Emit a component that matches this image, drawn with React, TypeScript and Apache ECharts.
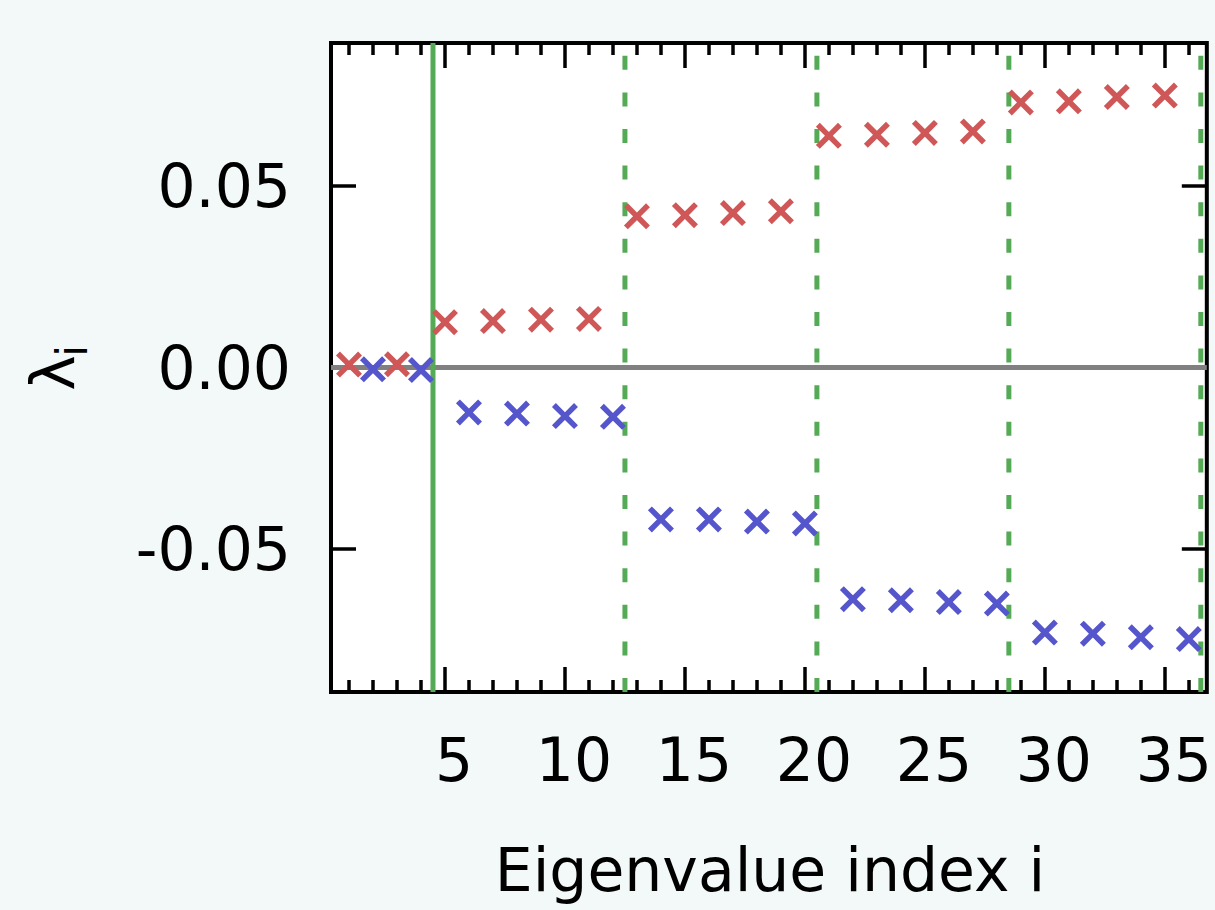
import React, { useEffect, useRef } from 'react';
import * as echarts from 'echarts';

// ---- data ----
const redIndex = [1, 3, 5, 7, 9, 11, 13, 15, 17, 19, 21, 23, 25, 27, 29, 31, 33, 35];
const redValues = [0.0008, 0.0009, 0.0125, 0.0128, 0.0132, 0.0134, 0.0417, 0.042, 0.0426, 0.0431, 0.0639, 0.0642, 0.0647, 0.0651, 0.0731, 0.0734, 0.0746, 0.075];
const blueIndex = [2, 4, 6, 8, 10, 12, 14, 16, 18, 20, 22, 24, 26, 28, 30, 32, 34, 36];
const blueValues = [-0.0005, -0.0007, -0.0124, -0.0127, -0.0134, -0.0136, -0.0419, -0.0419, -0.0425, -0.043, -0.0639, -0.0642, -0.0647, -0.0651, -0.0731, -0.0734, -0.0744, -0.0749];
const majorTicksX = [5, 10, 15, 20, 25, 30, 35];
const minorTicksX = [1, 2, 3, 4, 6, 7, 8, 9, 11, 12, 13, 14, 16, 17, 18, 19, 21, 22, 23, 24, 26, 27, 28, 29, 31, 32, 33, 34, 36];
const yTicks = [-0.05, 0, 0.05];
const solidBoundaries = [4.5];
const dashedBoundaries = [12.5, 20.5, 28.5, 36.5];
const xRange = [0.25, 36.75];
const yRange = [-0.0895, 0.0895];
const zeroLine = [0];

const FONT = 'DejaVu Sans';
const RED = '#d05757';
const BLUE = '#5555cc';
const GREEN = '#55aa55';
const XMARK = 'path://M0,15L15,0L50,35L85,0L100,15L65,50L100,85L85,100L50,65L15,100L0,85L35,50Z';

function xAxisDef(position: string, ticks: number[], length: number, labels: boolean) {
  return {
    type: 'value',
    position,
    min: xRange[0],
    max: xRange[1],
    axisLine: { show: false, onZero: false },
    splitLine: { show: false },
    axisTick: { show: true, inside: true, length, customValues: ticks, lineStyle: { color: '#000', width: 3.5 } },
    axisLabel: labels
      ? { show: true, customValues: ticks, fontFamily: FONT, fontSize: 60, color: '#000', margin: 38, padding: [0, 0, 0, 18] }
      : { show: false },
  };
}

function yAxisDef(position: string, labels: boolean) {
  return {
    type: 'value',
    position,
    min: yRange[0],
    max: yRange[1],
    axisLine: { show: false, onZero: false },
    splitLine: { show: false },
    axisTick: { show: true, inside: true, length: 25, customValues: yTicks, lineStyle: { color: '#000', width: 3.5 } },
    axisLabel: labels
      ? {
          show: true,
          customValues: yTicks,
          fontFamily: FONT,
          fontSize: 60,
          color: '#000',
          margin: 40,
          formatter: (v: number) => v.toFixed(2),
        }
      : { show: false },
  };
}

export default function App() {
  const ref = useRef<HTMLDivElement>(null);
  useEffect(() => {
    if (!ref.current) return;
    const chart = echarts.init(ref.current, undefined, { renderer: 'svg' });

    const vlines = (xs: number[], dashed: boolean) =>
      xs.map((x) => ({
        type: 'line',
        data: [[x, yRange[0]], [x, yRange[1]]],
        symbol: 'none',
        silent: true,
        z: 1,
        lineStyle: { color: GREEN, width: 5, type: dashed ? [14, 22.6] : 'solid' },
      }));

    const hlines = zeroLine.map((y) => ({
      type: 'line',
      data: [[xRange[0], y], [xRange[1], y]],
      symbol: 'none',
      silent: true,
      z: 1,
      lineStyle: { color: '#808080', width: 5 },
    }));

    const option: any = {
      animation: false,
      backgroundColor: '#f2f9f8',
      grid: {
        left: 331,
        top: 43,
        width: 877,
        height: 649,
        show: true,
        backgroundColor: '#fff',
        borderColor: '#000',
        borderWidth: 4,
      },
      xAxis: [
        xAxisDef('bottom', majorTicksX, 25, true),
        xAxisDef('bottom', minorTicksX, 12, false),
        xAxisDef('top', majorTicksX, 25, false),
        xAxisDef('top', minorTicksX, 12, false),
      ],
      yAxis: [yAxisDef('left', true), yAxisDef('right', false)],
      series: [
        ...hlines,
        ...vlines(solidBoundaries, false),
        ...vlines(dashedBoundaries, true),
        {
          type: 'scatter',
          name: 'positive',
          data: redIndex.map((x, i) => [x, redValues[i]]),
          symbol: XMARK,
          symbolSize: 26,
          itemStyle: { color: RED, opacity: 1 },
          z: 3,
        },
        {
          type: 'scatter',
          name: 'negative',
          data: blueIndex.map((x, i) => [x, blueValues[i]]),
          symbol: XMARK,
          symbolSize: 26,
          itemStyle: { color: BLUE, opacity: 1 },
          z: 3,
        },
      ],
      graphic: [
        {
          type: 'text',
          x: 770,
          y: 870,
          style: {
            text: 'Eigenvalue index i',
            fontFamily: FONT,
            fontSize: 60,
            fill: '#000',
            align: 'center',
            verticalAlign: 'middle',
            textAlign: 'center',
            textVerticalAlign: 'middle',
          },
        },
        {
          type: 'text',
          x: 53,
          y: 373,
          rotation: Math.PI / 2,
          style: {
            text: 'λ',
            fontFamily: FONT,
            fontSize: 60,
            fill: '#000',
            align: 'center',
            verticalAlign: 'middle',
            textAlign: 'center',
            textVerticalAlign: 'middle',
          },
        },
        {
          type: 'text',
          x: 72,
          y: 351,
          rotation: Math.PI / 2,
          style: {
            text: 'i',
            fontFamily: FONT,
            fontSize: 42,
            fill: '#000',
            align: 'center',
            verticalAlign: 'middle',
            textAlign: 'center',
            textVerticalAlign: 'middle',
          },
        },
      ],
    };
    chart.setOption(option);
    return () => chart.dispose();
  }, []);
  return <div ref={ref} style={{ position: 'fixed', left: 0, top: 0, width: 1215, height: 910 }} />;
}
